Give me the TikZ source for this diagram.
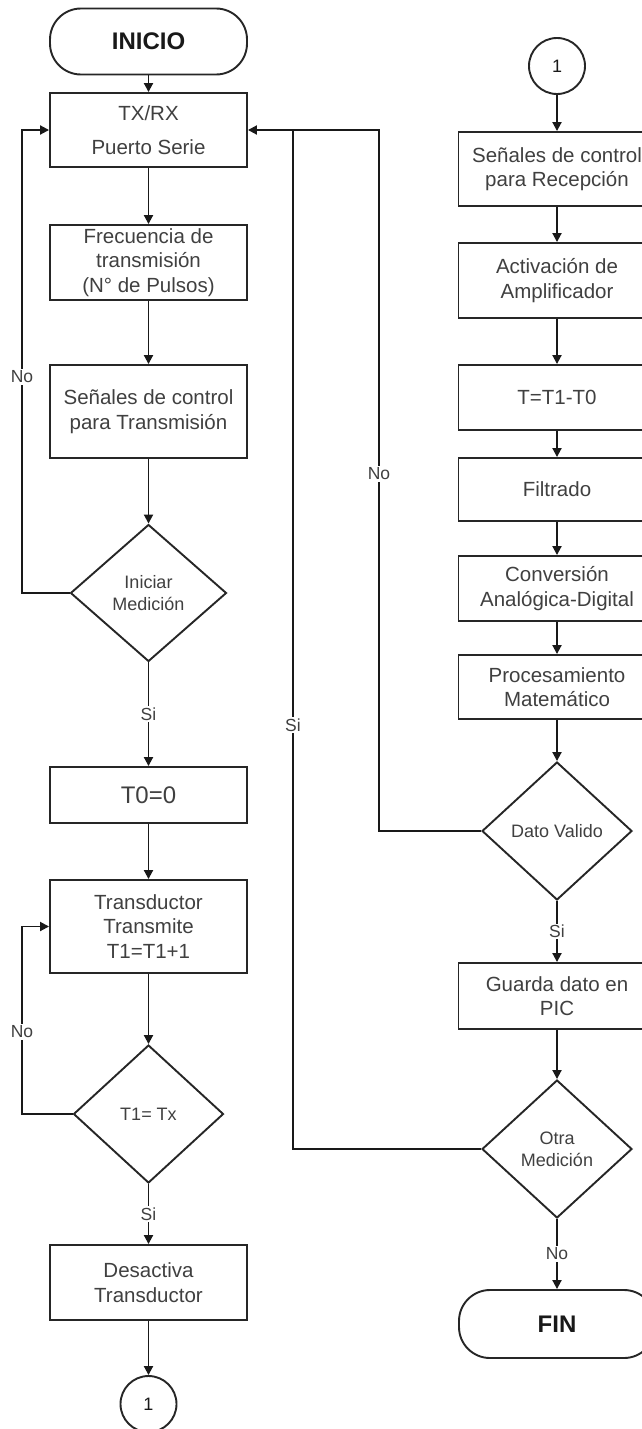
\documentclass[tikz,border=0pt]{standalone}
\usepackage{fontspec}
\setmainfont{Liberation Sans}
\usetikzlibrary{arrows.meta,shapes.geometric}

\tikzset{
  base/.style={draw=black!85, line width=1.9pt, text=black!75, align=center, inner sep=0pt},
  pbox/.style={base, rectangle, minimum width=197pt, font=\fontsize{20.5}{24.5}\selectfont},
  tbox/.style={base, rectangle, rounded corners=31pt, minimum width=197pt, minimum height=66pt,
               font=\bfseries\fontsize{24}{28}\selectfont, text=black!90},
  decision/.style={base, diamond, minimum width=150pt, minimum height=138pt,
                   font=\fontsize{18}{22}\selectfont},
  conn/.style={base, circle, minimum size=56pt, font=\fontsize{18}{22}\selectfont, text=black!90},
  flow/.style={draw=black!90, line width=1.9pt, -{Triangle[length=9pt,width=9pt]}},
  link/.style={draw=black!90, line width=1.9pt},
  lbl/.style={fill=white, inner sep=1.5pt, text=black!75, font=\fontsize{17.5}{20}\selectfont},
}

\begin{document}
\begin{tikzpicture}[x=1pt,y=-1pt]
  \useasboundingbox (0,0) rectangle (642,1429);
  \fill[white] (0,0) rectangle (642,1429);
  \clip (0,0) rectangle (642,1429);

  % ---- left column: transmission ----
  \node[tbox] (inicio) at (148.5,41.5) {INICIO};
  \node[pbox, minimum height=74pt] (tx) at (148.5,130) {TX/RX\\[9pt]Puerto Serie};
  \node[pbox, minimum height=75pt] (frec) at (148.5,262.5) {Frecuencia de\\transmisión\\(N° de Pulsos)};
  \node[pbox, minimum height=93pt] (sent) at (148.5,411.5) {Señales de control\\para Transmisión};
  \node[decision, minimum width=156pt, minimum height=137pt] (ini) at (148.5,593) {Iniciar\\Medición};
  \node[pbox, minimum height=56pt, font=\fontsize{24}{28}\selectfont] (t0) at (148.5,795) {T0=0};
  \node[pbox, minimum height=93pt] (trans) at (148.5,926.5) {Transductor\\Transmite\\T1=T1+1};
  \node[decision] (t1) at (148.5,1114) {T1= Tx};
  \node[pbox, minimum height=75pt] (des) at (148.5,1282.5) {Desactiva\\Transductor};
  \node[conn] (c1) at (148.5,1404) {1};

  % ---- right column: reception ----
  \node[conn] (c2) at (557,66) {1};
  \node[pbox, minimum height=74pt] (rec) at (557,169) {Señales de control\\para Recepción};
  \node[pbox, minimum height=75pt] (amp) at (557,280.5) {Activación de\\Amplificador};
  \node[pbox, minimum height=65pt] (tt) at (557,397.5) {T=T1-T0};
  \node[pbox, minimum height=63pt] (fil) at (557,489.5) {Filtrado};
  \node[pbox, minimum height=65pt] (conv) at (557,588.5) {Conversión\\Analógica-Digital};
  \node[pbox, minimum height=64pt] (proc) at (557,687) {Procesamiento\\Matemático};
  \node[decision] (dato) at (557,831) {Dato Valido};
  \node[pbox, minimum height=66pt] (guarda) at (557,996) {Guarda dato en\\PIC};
  \node[decision] (otra) at (557,1149) {Otra\\Medición};
  \node[tbox, minimum height=68pt, minimum width=196pt] (fin) at (557,1324) {FIN};

  % ---- main flow ----
  \draw[flow] (inicio) -- (tx);
  \draw[flow] (tx) -- (frec);
  \draw[flow] (frec) -- (sent);
  \draw[flow] (sent) -- (ini);
  \draw[flow] (ini) -- node[lbl] {Si} (t0);
  \draw[flow] (t0) -- (trans);
  \draw[flow] (trans) -- (t1);
  \draw[flow] (t1) -- node[lbl] {Si} (des);
  \draw[flow] (des) -- (c1);

  \draw[flow] (c2) -- (rec);
  \draw[flow] (rec) -- (amp);
  \draw[flow] (amp) -- (tt);
  \draw[flow] (tt) -- (fil);
  \draw[flow] (fil) -- (conv);
  \draw[flow] (conv) -- (proc);
  \draw[flow] (proc) -- (dato);
  \draw[flow] (dato) -- node[lbl] {Si} (guarda);
  \draw[flow] (guarda) -- (otra);
  \draw[flow] (otra) -- node[lbl] {No} (fin);

  % ---- loops back ----
  \coordinate (la) at (22,593);
  \coordinate (lb) at (22,1114);
  \coordinate (nr) at (379,130);
  \coordinate (sr) at (293,130);

  \draw[flow] (ini.west) -- (la) |- (tx.west);
  \draw[flow] (t1.west) -- (lb) |- (trans.west);
  \draw[flow] (dato.west) -| (nr) -- (tx.east);
  \draw[link] (otra.west) -| (sr);

  \node[lbl] (lno1) at (22,377) {No};
  \node[lbl] (lno2) at (22,1032) {No};
  \node[lbl] (rno) at (379,474) {No};
  \node[lbl] (rsi) at (293,725) {Si};
\end{tikzpicture}
\end{document}
